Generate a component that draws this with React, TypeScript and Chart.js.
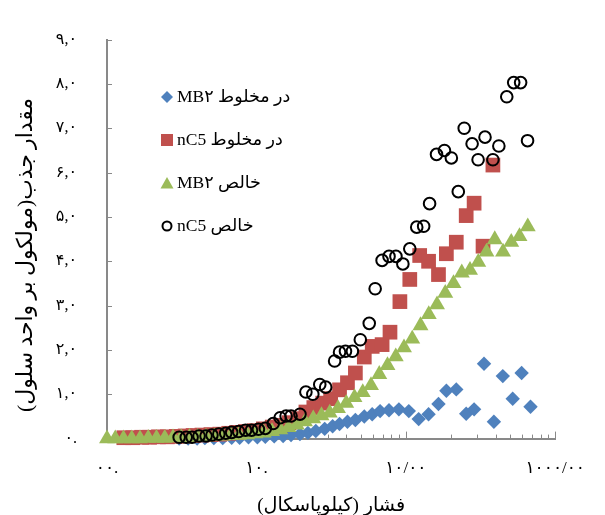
import React, { useEffect, useRef } from 'react';
import { Chart, registerables } from 'chart.js';

Chart.register(...registerables);

// MB2 in mixture (blue diamonds)
const mb2MixX = [3.04, 3.49, 4.01, 4.52, 5.19, 5.95, 6.83, 7.72, 8.85, 10.15, 11.47, 13.16, 15.1, 17.05, 19.56, 22.1, 24.97, 28.64, 32.36, 36.0, 40.68, 45.96, 52.72, 59.56, 67.28, 77.17, 89.87, 104.7, 121.9, 142.0, 165.4, 186.8, 217.6, 253.5, 286.4, 333.7, 388.5, 445.7, 519.1, 595.5, 683.1];
const mb2MixY = [0, 0, 0, 0.01, 0.01, 0.01, 0.02, 0.02, 0.03, 0.03, 0.04, 0.05, 0.06, 0.08, 0.1, 0.13, 0.17, 0.22, 0.28, 0.33, 0.38, 0.42, 0.5, 0.55, 0.62, 0.64, 0.66, 0.62, 0.44, 0.55, 0.78, 1.08, 1.11, 0.56, 0.66, 1.69, 0.38, 1.41, 0.9, 1.48, 0.72];

// nC5 in mixture (red squares)
const nc5MixX = [1.296, 1.487, 1.705, 1.927, 2.21, 2.535, 2.908, 3.336, 3.77, 4.32, 4.96, 5.69, 6.53, 7.37, 8.46, 9.7, 11.13, 12.76, 14.42, 16.54, 18.97, 21.44, 24.22, 27.78, 31.38, 36.0, 40.68, 45.96, 52.72, 59.56, 69.37, 78.34, 91.26, 106.3, 123.8, 142.0, 165.4, 186.8, 217.6, 253.5, 286.4, 328.6, 382.6];
const nc5MixY = [0.02, 0.02, 0.03, 0.03, 0.04, 0.04, 0.05, 0.06, 0.07, 0.08, 0.09, 0.1, 0.12, 0.14, 0.16, 0.18, 0.22, 0.26, 0.3, 0.36, 0.45, 0.6, 0.7, 0.8, 0.9, 1.1, 1.26, 1.48, 1.84, 2.08, 2.12, 2.4, 3.09, 3.59, 4.13, 4.0, 3.7, 4.17, 4.43, 5.03, 5.31, 4.34, 6.17];

// pure MB2 (green triangles)
const mb2PureX = [1.0, 1.136, 1.289, 1.464, 1.663, 1.888, 2.144, 2.435, 2.765, 3.14, 3.565, 4.049, 4.598, 5.221, 5.929, 6.733, 7.646, 8.683, 9.86, 11.2, 12.71, 14.44, 16.4, 18.62, 21.14, 24.01, 27.27, 30.96, 35.16, 39.93, 45.34, 51.49, 58.47, 66.4, 75.4, 85.62, 97.23, 110.4, 125.4, 142.4, 161.7, 183.6, 208.5, 236.8, 268.9, 305.3, 346.7, 393.7, 447.1, 507.7, 576.6, 654.8];
const mb2PureY = [0, 0, 0, 0, 0, 0.01, 0.01, 0.01, 0.02, 0.02, 0.03, 0.03, 0.04, 0.05, 0.06, 0.07, 0.08, 0.09, 0.11, 0.13, 0.16, 0.2, 0.25, 0.31, 0.38, 0.45, 0.52, 0.58, 0.68, 0.8, 0.93, 1.04, 1.2, 1.45, 1.65, 1.85, 2.05, 2.25, 2.55, 2.8, 3.02, 3.28, 3.5, 3.74, 3.8, 3.98, 4.21, 4.49, 4.21, 4.43, 4.56, 4.78];

// pure nC5 (open circles)
const nc5PureX = [3.04, 3.39, 3.71, 4.13, 4.6, 5.04, 5.6, 6.23, 6.83, 7.6, 8.46, 9.27, 10.31, 11.47, 12.96, 14.42, 15.8, 17.05, 19.56, 21.44, 23.85, 26.54, 29.08, 33.37, 36.0, 39.45, 43.89, 49.59, 56.89, 62.33, 69.37, 77.17, 85.88, 95.52, 106.3, 118.3, 131.6, 144.2, 160.5, 181.3, 201.7, 224.4, 245.9, 277.7, 304.5, 338.8, 382.6, 419.3, 473.7, 527.2, 586.5, 652.6];
const nc5PureY = [0.03, 0.03, 0.03, 0.06, 0.06, 0.08, 0.1, 0.12, 0.14, 0.16, 0.19, 0.19, 0.21, 0.23, 0.34, 0.47, 0.51, 0.51, 0.55, 1.05, 1.0, 1.22, 1.16, 1.75, 1.95, 1.97, 1.97, 2.23, 2.6, 3.38, 4.02, 4.11, 4.11, 3.94, 4.28, 4.77, 4.79, 5.3, 6.41, 6.5, 6.33, 5.57, 7.0, 6.65, 6.29, 6.8, 6.29, 6.6, 7.71, 8.03, 8.03, 6.72];

const xTickValues = [1, 10, 100, 1000];
const xTickLabels = ['۰۰.', '۱۰.', '۱۰/۰۰', '۱۰۰۰/۰۰'];
const yTickLabels = ['۰.', '۱,۰', '۲,۰', '۳,۰', '۴,۰', '۵,۰', '۶,۰', '۷,۰', '۸,۰', '۹,۰'];
const legendLabels = ['MB۲ در مخلوط', 'nC5 در مخلوط', 'MB۲ خالص', 'nC5 خالص'];
const xTitle = 'فشار (کیلوپاسکال)';
const yTitle = 'مقدار جذب(مولکول بر واحد سلول)';

const BLUE = '#4F81BD';
const RED = '#C0504D';
const GREEN = '#9BBB59';
const AXIS = '#898989';
const FONT = "'Liberation Serif', 'DejaVu Sans', serif";

const toPoints = (xs: number[], ys: number[]) => xs.map((x, i) => ({ x, y: ys[i] }));

function drawMarker(ctx: CanvasRenderingContext2D, kind: string, x: number, y: number) {
  ctx.save();
  ctx.beginPath();
  if (kind === 'diamond') {
    ctx.fillStyle = BLUE;
    ctx.moveTo(x, y - 6); ctx.lineTo(x + 6, y); ctx.lineTo(x, y + 6); ctx.lineTo(x - 6, y);
    ctx.closePath(); ctx.fill();
  } else if (kind === 'square') {
    ctx.fillStyle = RED;
    ctx.fillRect(x - 6, y - 6, 12, 12);
  } else if (kind === 'triangle') {
    ctx.fillStyle = GREEN;
    ctx.moveTo(x, y - 6); ctx.lineTo(x + 6.5, y + 5.5); ctx.lineTo(x - 6.5, y + 5.5);
    ctx.closePath(); ctx.fill();
  } else {
    ctx.strokeStyle = '#000'; ctx.lineWidth = 2;
    ctx.arc(x, y, 4.5, 0, Math.PI * 2); ctx.stroke();
  }
  ctx.restore();
}

function fitFont(ctx: CanvasRenderingContext2D, text: string, width: number) {
  ctx.font = `20px ${FONT}`;
  const w = ctx.measureText(text).width || width;
  return Math.max(10, Math.min(28, (20 * width) / w));
}

const overlayPlugin = {
  id: 'overlay',
  beforeDatasetsDraw(chart: any) {
    const { ctx, chartArea, scales } = chart;
    const x = scales.x, y = scales.y;
    ctx.save();
    ctx.strokeStyle = AXIS;
    ctx.lineWidth = 1;
    for (let v = 1; v <= 9; v++) {
      const py = Math.round(y.getPixelForValue(v)) + 0.5;
      ctx.beginPath(); ctx.moveTo(chartArea.left, py); ctx.lineTo(chartArea.left + 5, py); ctx.stroke();
    }
    for (const d of [1, 10, 100]) {
      for (let m = 2; m <= 10; m++) {
        const px = Math.round(x.getPixelForValue(d * m)) + 0.5;
        const len = m === 10 ? 7 : 4;
        ctx.beginPath(); ctx.moveTo(px, chartArea.bottom); ctx.lineTo(px, chartArea.bottom - len); ctx.stroke();
      }
    }
    ctx.restore();
  },
  afterDraw(chart: any) {
    const { ctx, chartArea } = chart;
    ctx.save();
    // legend
    const kinds = ['diamond', 'square', 'triangle', 'circle'];
    const rows = [97, 140, 183, 226];
    ctx.fillStyle = '#000';
    ctx.font = `17.5px ${FONT}`;
    ctx.textBaseline = 'middle';
    ctx.textAlign = 'left';
    kinds.forEach((k, i) => {
      drawMarker(ctx, k, 167, rows[i]);
      ctx.fillText(legendLabels[i], 177, rows[i]);
    });
    // y title
    const ySize = fitFont(ctx, yTitle, 314);
    ctx.save();
    ctx.translate(26, 255);
    ctx.rotate(-Math.PI / 2);
    ctx.font = `${ySize}px ${FONT}`;
    ctx.textAlign = 'center';
    ctx.textBaseline = 'middle';
    ctx.fillText(yTitle, 0, 0);
    ctx.restore();
    // x title
    const xSize = fitFont(ctx, xTitle, 148);
    ctx.font = `${xSize}px ${FONT}`;
    ctx.textAlign = 'center';
    ctx.textBaseline = 'middle';
    ctx.fillText(xTitle, (chartArea.left + chartArea.right) / 2, 506);
    ctx.restore();
  },
};

export default function App() {
  const ref = useRef<HTMLCanvasElement | null>(null);
  useEffect(() => {
    if (!ref.current) return;
    const chart = new Chart(ref.current, {
      type: 'scatter',
      data: {
        datasets: [
          {
            label: legendLabels[3], data: toPoints(nc5PureX, nc5PureY), pointStyle: 'circle',
            pointRadius: 5.8, pointBorderWidth: 2, borderColor: '#000', backgroundColor: 'rgba(0,0,0,0)', clip: false,
          },
          {
            label: legendLabels[2], data: toPoints(mb2PureX, mb2PureY), pointStyle: 'triangle',
            pointRadius: 9.2, pointBorderWidth: 0, borderColor: GREEN, backgroundColor: GREEN, clip: false,
          },
          {
            label: legendLabels[1], data: toPoints(nc5MixX, nc5MixY), pointStyle: 'rect',
            pointRadius: 10.4, pointBorderWidth: 0, borderColor: RED, backgroundColor: RED, clip: false,
          },
          {
            label: legendLabels[0], data: toPoints(mb2MixX, mb2MixY), pointStyle: 'rectRot',
            pointRadius: 7.2, pointBorderWidth: 0, borderColor: BLUE, backgroundColor: BLUE, clip: false,
          },
        ] as any,
      },
      options: {
        animation: false,
        responsive: false,
        maintainAspectRatio: false,
        events: [],
        layout: { padding: { top: 21, right: 45, bottom: 0, left: 0 } },
        plugins: { legend: { display: false }, tooltip: { enabled: false } },
        scales: {
          x: {
            type: 'logarithmic',
            min: 1,
            max: 1000,
            grid: { display: false, drawTicks: false },
            border: { display: true, color: AXIS, width: 2 },
            afterBuildTicks: (s: any) => { s.ticks = xTickValues.map((v) => ({ value: v, major: true })); },
            afterFit: (s: any) => { s.height = 76.4; },
            ticks: {
              autoSkip: false, maxRotation: 0, minRotation: 0, padding: 20, color: '#000',
              font: { family: FONT, size: 17 },
              callback: (v: any) => { const i = xTickValues.indexOf(Number(v)); return i >= 0 ? xTickLabels[i] : ''; },
            },
          },
          y: {
            type: 'linear',
            min: 0,
            max: 9,
            grid: { display: false, drawTicks: false },
            border: { display: true, color: AXIS, width: 2 },
            afterFit: (s: any) => { s.width = 107; },
            ticks: {
              stepSize: 1, padding: 30, color: '#000',
              font: { family: FONT, size: 16 },
              callback: (v: any) => yTickLabels[Math.round(Number(v))] ?? '',
            },
          },
        },
      } as any,
      plugins: [overlayPlugin],
    });
    return () => chart.destroy();
  }, []);
  return (
    <div style={{ position: 'fixed', left: 0, top: 0, width: 605, height: 515, background: '#fff' }}>
      <canvas ref={ref} width={605} height={515} style={{ display: 'block', width: 605, height: 515 }} />
    </div>
  );
}
